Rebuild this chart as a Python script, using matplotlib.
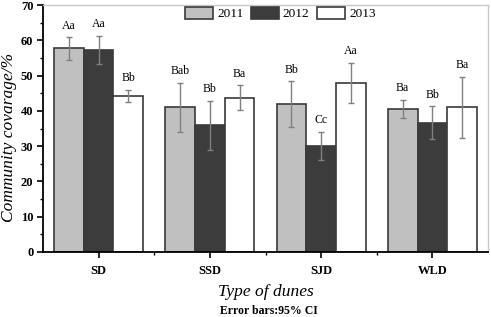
import matplotlib
matplotlib.use("Agg")
import matplotlib.pyplot as plt
import numpy as np
from matplotlib.patches import Patch
from matplotlib.ticker import MultipleLocator, FixedLocator

plt.rcParams['font.family'] = ['Liberation Serif', 'DejaVu Serif']

categories = ["SD", "SSD", "SJD", "WLD"]
years = ["2011", "2012", "2013"]
means_2011 = [57.7, 41.0, 41.9, 40.6]
means_2012 = [57.2, 35.9, 30.0, 36.7]
means_2013 = [44.2, 43.7, 48.0, 41.0]
ci_2011 = [3.2, 7.0, 6.5, 2.5]
ci_2012 = [4.0, 7.0, 4.0, 4.6]
ci_2013 = [1.8, 3.5, 5.7, 8.7]
letters_2011 = ["Aa", "Bab", "Bb", "Ba"]
letters_2012 = ["Aa", "Bb", "Cc", "Bb"]
letters_2013 = ["Bb", "Ba", "Aa", "Ba"]

means = [means_2011, means_2012, means_2013]
cis = [ci_2011, ci_2012, ci_2013]
letters = [letters_2011, letters_2012, letters_2013]
colors = ["#c0c0c0", "#3c3c3c", "#ffffff"]
edge = "#3a3a3a"

fig = plt.figure(figsize=(4.91, 3.17), dpi=100)
ax = fig.add_axes([43/491, 1-252/317, 445/491, 247/317])

x = np.arange(len(categories))
w = 0.267
for i in range(3):
    xs = x + (i - 1) * w
    ax.bar(xs, means[i], width=w, color=colors[i], edgecolor=edge, linewidth=1.2, zorder=2)
    ax.errorbar(xs, means[i], yerr=cis[i], fmt='none', ecolor="#808080",
                elinewidth=1.0, capsize=2.5, capthick=1.0, zorder=3)
    for xx, m, c, t in zip(xs, means[i], cis[i], letters[i]):
        ax.annotate(t, (xx, m + c), xytext=(0, 4), textcoords='offset points',
                    ha='center', va='bottom', fontsize=8.5)

ax.set_xlim(-0.5, 3.5)
ax.set_ylim(0, 70)
ax.yaxis.set_major_locator(MultipleLocator(10))
ax.yaxis.set_minor_locator(MultipleLocator(5))
ax.set_xticks(x)
ax.set_xticklabels(categories, fontweight='bold', fontsize=9)
ax.xaxis.set_minor_locator(FixedLocator([0.5, 1.5, 2.5]))
for lab in ax.get_yticklabels():
    lab.set_fontweight('bold')
    lab.set_fontsize(9)
ax.tick_params(axis='both', which='major', direction='out', length=4, width=1.2, color='black', pad=3)
ax.tick_params(axis='x', which='major', pad=5)
ax.tick_params(axis='both', which='minor', direction='out', length=2.5, width=1.0, color='black')

for s in ['left', 'bottom']:
    ax.spines[s].set_linewidth(1.3)
    ax.spines[s].set_color('black')
for s in ['top', 'right']:
    ax.spines[s].set_linewidth(1.0)
    ax.spines[s].set_color('#c8c8c8')

ax.set_ylabel("Community covarage/%", fontstyle='italic', fontsize=12.5, va='center')
ax.yaxis.set_label_coords(-0.0764, 0.4636)

fig.text(266/491, 1-292/317, "Type of dunes", fontstyle='italic', fontsize=12.5, ha='center', va='center')
fig.text(269/491, 1-311/317, "Error bars:95% CI", fontweight='bold', fontsize=8.5, ha='center', va='center')

handles = [Patch(facecolor=c, edgecolor=edge, linewidth=1.2) for c in colors]
ax.legend(handles, years, loc='center', bbox_to_anchor=((280.5-43)/445, (252-13.5)/247),
          ncol=3, frameon=False, fontsize=9.5, handlelength=2.1, handleheight=1.05,
          handletextpad=0.3, columnspacing=0.6, borderpad=0, borderaxespad=0)

fig.savefig("out.png", dpi=100)
